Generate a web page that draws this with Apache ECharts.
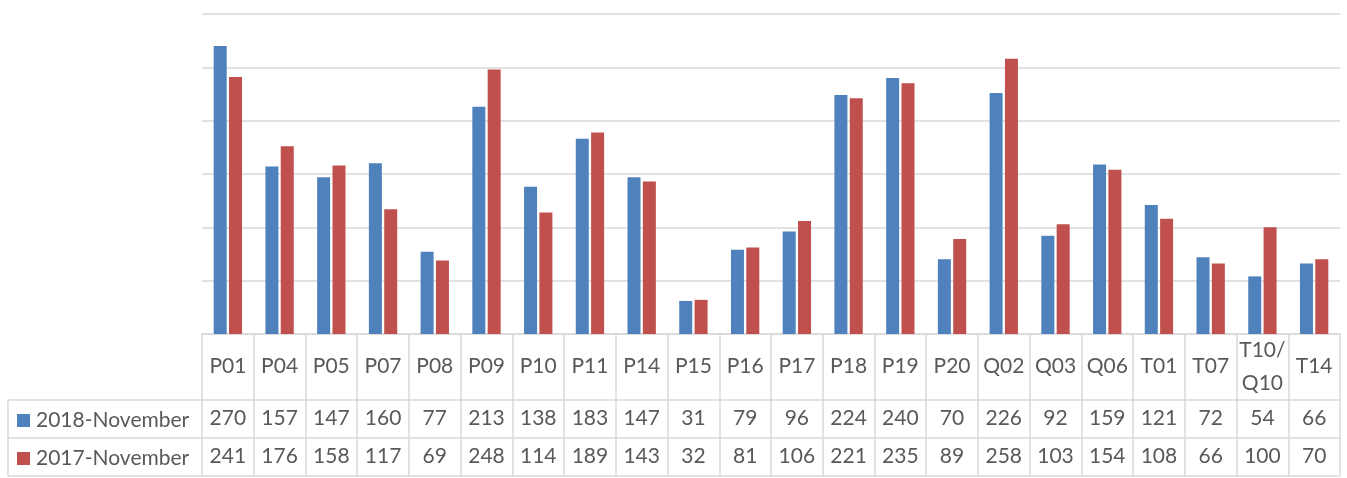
<!DOCTYPE html>
<html><head><meta charset="utf-8">
<script src="https://cdn.jsdelivr.net/npm/echarts@6/dist/echarts.min.js"></script>
<style>html,body{margin:0;padding:0;background:#fff}#c{width:1347px;height:478px}</style>
</head><body><div id="c"></div>
<script>
const categories = ['P01','P04','P05','P07','P08','P09','P10','P11','P14','P15','P16','P17','P18','P19','P20','Q02','Q03','Q06','T01','T07','T10/\nQ10','T14'];
const seriesNames = ['2018-November','2017-November'];
const nov2018 = [270,157,147,160,77,213,138,183,147,31,79,96,224,240,70,226,92,159,121,72,54,66];
const nov2017 = [241,176,158,117,69,248,114,189,143,32,81,106,221,235,89,258,103,154,108,66,100,70];

const FONT = 'Lato';
const TXT = '#595959';
const LINE = '#D9D9D9';
const FS = 21;
const chart = echarts.init(document.getElementById('c'), null, {renderer:'canvas'});
const GL = 202, GR = 7, GT = 14, GB = 144;
const W = 1347, H = 478;
function legendAt(name, top){
  return {
    orient:'horizontal', left:17, top:top, padding:0, itemWidth:13, itemHeight:13,
    icon:'rect', data:[name], itemGap:5,
    textStyle:{fontSize:FS, color:TXT, fontFamily:FONT, padding:[0,0,0,1]}
  };
}
chart.setOption({
  animation:false,
  textStyle:{fontFamily:FONT},
  grid:{left:GL,right:GR,top:GT,bottom:GB,containLabel:false},
  legend:[legendAt(seriesNames[0], 410), legendAt(seriesNames[1], 448)],
  xAxis:{
    type:'category', data:categories, boundaryGap:true,
    axisLine:{show:true, lineStyle:{color:LINE, width:1.5}},
    axisTick:{show:true, interval:0, length:142, lineStyle:{color:LINE, width:1.5}},
    axisLabel:{
      interval:0, margin:0,
      formatter:function(v, i){
        let head;
        if (v.indexOf('\n')>=0){
          head = v.split('\n').map(s=>'{h2|'+s+'}').join('\n');
        } else head = '{h|'+v+'}';
        return head + '\n{v|'+nov2018[i]+'}\n{v|'+nov2017[i]+'}';
      },
      rich:{
        h:{fontSize:FS, color:TXT, fontFamily:FONT, lineHeight:65, align:'center'},
        h2:{fontSize:FS, color:TXT, fontFamily:FONT, lineHeight:32.5, align:'center'},
        v:{fontSize:FS, color:TXT, fontFamily:FONT, lineHeight:38, align:'center'}
      }
    }
  },
  yAxis:{
    type:'value', min:0, max:300, interval:50,
    axisLabel:{show:false}, axisLine:{show:false}, axisTick:{show:false},
    splitLine:{show:true, lineStyle:{color:LINE, width:1.5}}
  },
  series:[
    {name:seriesNames[0], type:'bar', data:nov2018, barWidth:13, barGap:'18%', itemStyle:{color:'#4F81BD'}},
    {name:seriesNames[1], type:'bar', data:nov2017, barWidth:13, barGap:'18%', itemStyle:{color:'#C0504D'}}
  ],
  graphic:[
    {type:'line', shape:{x1:8, y1:400, x2:W-GR, y2:400}, style:{stroke:LINE, lineWidth:1.5}, z:10},
    {type:'line', shape:{x1:8, y1:438, x2:W-GR, y2:438}, style:{stroke:LINE, lineWidth:1.5}, z:10},
    {type:'line', shape:{x1:8, y1:476, x2:W-GR, y2:476}, style:{stroke:LINE, lineWidth:1.5}, z:10},
    {type:'line', shape:{x1:8, y1:400, x2:8, y2:476}, style:{stroke:LINE, lineWidth:1.5}, z:10}
  ]
});
</script></body></html>
